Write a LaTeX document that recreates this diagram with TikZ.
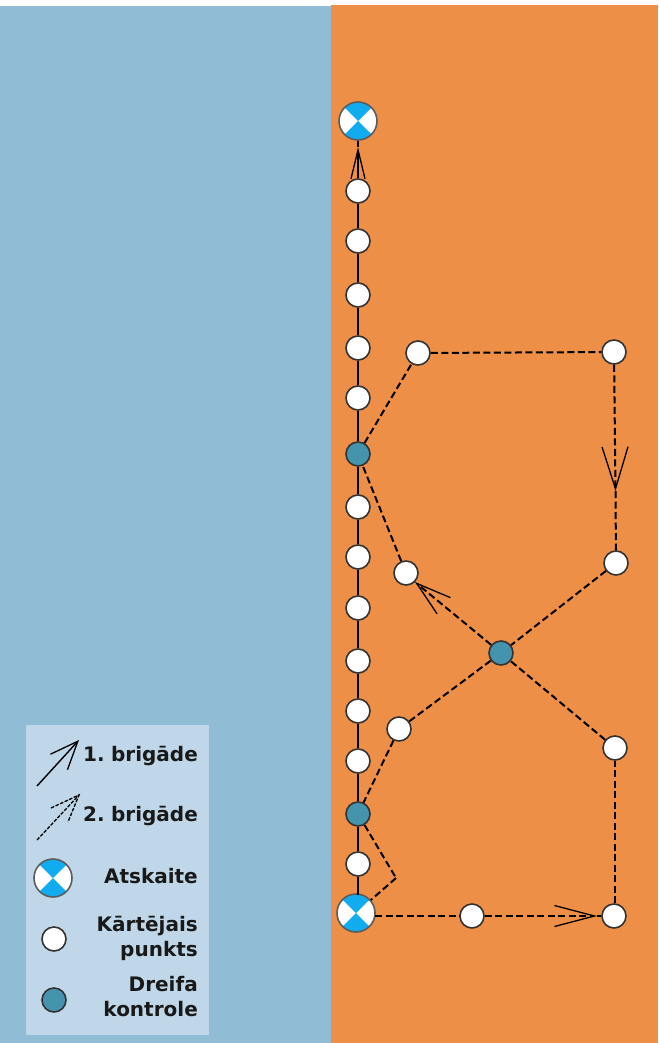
\documentclass[tikz,border=0pt]{standalone}
\usepackage{fontspec}
\setmainfont{DejaVu Sans}
\usetikzlibrary{arrows.meta}
\definecolor{landblue}{HTML}{91BCD6}
\definecolor{fieldorange}{HTML}{EE8F47}
\definecolor{panelblue}{HTML}{BFD7E8}
\definecolor{crossblue}{HTML}{10ACEF}
\definecolor{driftteal}{HTML}{4594AE}
\definecolor{ringgrey}{HTML}{333333}
\newcommand{\legendfont}{\fontsize{20}{25}\selectfont\bfseries\spaceskip=.2em\relax}
\tikzset{
	plainpt/.style={circle,draw=ringgrey,line width=1.6pt,fill=white,minimum size=24pt,inner sep=0pt},
	driftpt/.style={plainpt,fill=driftteal},
	crosspt/.style={plainpt,draw=ringgrey!80,minimum size=38pt,path picture={
		\fill[crossblue,shift={(path picture bounding box.center)}]
		(0,0)--(45:30pt)--(135:30pt)--cycle (0,0)--(-45:30pt)--(-135:30pt)--cycle;}},
	firstleg/.style={line width=2.4pt,black},
	secondleg/.style={line width=2pt,black,dash pattern=on 7pt off 3.5pt},
	legendtext/.style={anchor=east,align=right,inner sep=0pt,font=\legendfont,text=black!90}
}
\begin{document}
\begin{tikzpicture}
	[x=1pt,y=-1pt]
	\useasboundingbox (0,0) rectangle (658,1043);
	\fill[landblue] (0,6) rectangle (331,1043);
	\fill[fieldorange] (331,5) rectangle (658,1043);
	\fill[panelblue] (26,725) rectangle (209,1035);

	% first brigade
	\node[crosspt] (finish) at (358,121) {};
	\node[crosspt] (start) at (356,913) {};
	\foreach \ptName/\ptY in {a1/191,a2/241,a3/295,a4/348,a5/398,a7/507,a8/557,a9/608,a10/661,a11/711,a12/761,a14/864}{
		\node[plainpt] (\ptName) at (358,\ptY) {};
	}
	\node[driftpt] (a6) at (358,454) {};
	\node[driftpt] (a13) at (358,814) {};
	\coordinate (tipA) at (358,147);
	\coordinate (startTop) at (358,895);
	\foreach \startNode/\endNode in {startTop/a14,a14/a13,a13/a12,a12/a11,a11/a10,a10/a9,a9/a8,a8/a7,a7/a6,a6/a5,a5/a4,a4/a3,a3/a2,a2/a1,tipA/finish}{
		\draw[firstleg] (\startNode) -- (\endNode);
	}
	\draw[firstleg,-{Straight Barb[length=29pt,width=14pt,line width=1.3pt]}] (a1) -- (tipA);

	% second brigade
	\node[plainpt] (b1) at (472,916) {};
	\node[plainpt] (b2) at (614,916) {};
	\node[plainpt] (b3) at (615,748) {};
	\node[driftpt] (cross) at (501,653) {};
	\node[plainpt] (b4) at (406,573) {};
	\node[plainpt] (b5) at (418,353) {};
	\node[plainpt] (b6) at (614,352) {};
	\node[plainpt] (b7) at (616,563) {};
	\node[plainpt] (b8) at (399,729) {};
	\coordinate (bend) at (396,878);
	\coordinate (startOut) at (375,916);
	\coordinate (tipB) at (597,916);
	\coordinate (tipC) at (415,582);
	\coordinate (tipD) at (615.5,491);
	\foreach \startNode/\endNode in {startOut/b1,tipB/b2,b3/cross,tipC/b4,b4/a6,a6/b5,b5/b6,tipD/b7,b7/cross,cross/b8,b8/a13,a13/bend,bend/start}{
		\draw[secondleg] (\startNode) -- (\endNode);
	}
	\draw[secondleg] (b2.north -| b3) -- (b3);
	\draw[secondleg,-{Straight Barb[length=40pt,width=21pt,line width=1.3pt]}] (b1) -- (tipB);
	\draw[secondleg,-{Straight Barb[length=35pt,width=21pt,line width=1.3pt]}] (cross) -- (tipC);
	\draw[secondleg,-{Straight Barb[length=42pt,width=26pt,line width=1.3pt]}] (b6) -- (tipD);

	% legend
	\coordinate (legA) at (37,786);
	\coordinate (legAtip) at (79,740);
	\coordinate (legB) at (37,840);
	\coordinate (legBtip) at (79,795);
	\coordinate (legBl) at (51,808);
	\coordinate (legBr) at (68,822);
	\draw[line width=1.4pt,-{Straight Barb[length=28pt,width=23pt,line width=1.3pt]}] (legA) -- (legAtip);
	\draw[line width=1.3pt,dash pattern=on 3.5pt off 1.5pt] (legB) -- (legBtip);
	\draw[line width=1.3pt,dash pattern=on 3.5pt off 1.5pt] (legBl) -- (legBtip) -- (legBr);
	\node[crosspt] (keyCross) at (53,878) {};
	\node[plainpt] (keyPlain) at (54,939) {};
	\node[driftpt] (keyDrift) at (54,1000) {};
	\node[legendtext] (txtA) at (198,756) {1. brigāde};
	\node[legendtext] (txtB) at (198,816) {2. brigāde};
	\node[legendtext] (txtC) at (198,876) {Atskaite};
	\node[legendtext] (txtD) at (198,938) {Kārtējais\\punkts};
	\node[legendtext] (txtE) at (198,997) {Dreifa\\kontrole};
\end{tikzpicture}
\end{document}
